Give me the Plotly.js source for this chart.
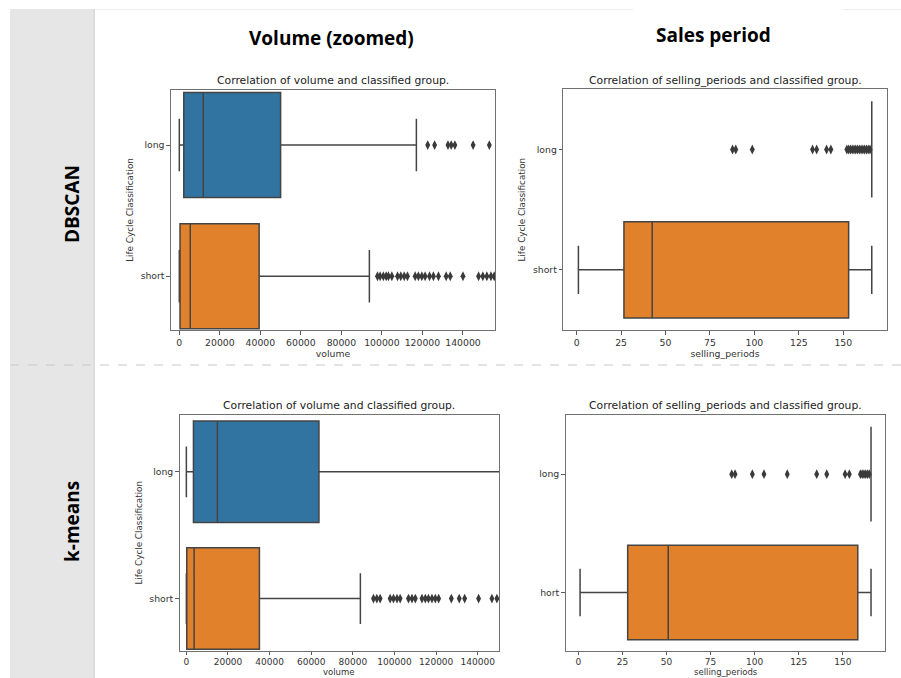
<!DOCTYPE html>
<html>
<head>
<meta charset="utf-8">
<script src="https://cdn.plot.ly/plotly-3.0.1.min.js"></script>
<style>
  html, body { margin: 0; padding: 0; background: #ffffff; }
  #chart { width: 901px; height: 678px; }
</style>
</head>
<body>
<div id="chart"></div>
<script>
// ---------------- DATA ----------------
const categories = ['long', 'short'];
const statOrder = ['lowerfence', 'q1', 'median', 'q3', 'upperfence'];

// DBSCAN – volume (zoomed)
const dbscanVolumeLong = [0, 2200, 11800, 50000, 117000];
const dbscanVolumeShort = [0, 350, 5400, 39400, 93800];
const dbscanVolumeLongOutliers = [122600, 126000, 132600, 134200, 136000, 145000, 153000];
const dbscanVolumeShortOutliers = [97800, 99100, 100700, 102100, 103200, 104900, 107700, 109300, 111000, 112600,
  116400, 118000, 119700, 121300, 123500, 125400, 127900, 131700, 133700, 140000,
  147700, 149800, 151800, 153800, 155400];

// DBSCAN – sales period
const dbscanSalesLong = [166, 166, 166, 166, 166];
const dbscanSalesShort = [1, 26.6, 42.5, 153, 166];
const dbscanSalesLongOutliers = [87.7, 89.5, 98.8, 132.7, 135, 140.6, 143, 152, 153, 154, 155, 156, 157, 158,
  159, 160, 161, 162, 163, 164, 165];

// k-means – volume (zoomed)
const kmeansVolumeLong = [0, 3400, 14900, 63700, 160000];
const kmeansVolumeShort = [0, 200, 3700, 35100, 83600];
const kmeansVolumeShortOutliers = [89900, 91500, 93100, 97900, 99500, 101200, 102700, 106700, 108400, 110000,
  113200, 114800, 116300, 118000, 119600, 121200, 127300, 131100, 133700, 140400, 146800, 149200];

// k-means – sales period
const kmeansSalesLong = [166, 166, 166, 166, 166];
const kmeansSalesShort = [1, 28, 51, 158.5, 166];
const kmeansSalesLongOutliers = [87, 88.9, 98.7, 105.3, 118.5, 135.2, 140.9, 151.3, 153.7, 160, 161, 162, 163, 164, 165];

const volumeTicks = [0, 20000, 40000, 60000, 80000, 100000, 120000, 140000];
const salesTicks = [0, 25, 50, 75, 100, 125, 150];

const subplotTitles = ['Correlation of volume and classified group.',
  'Correlation of selling_periods and classified group.'];
const xTitles = ['volume', 'selling_periods'];
const yTitle = 'Life Cycle Classification';
const columnTitles = ['Volume (zoomed)', 'Sales period'];
const rowTitles = ['DBSCAN', 'k-means'];

// ---------------- STYLE ----------------
const BLUE = '#3274a1';
const ORANGE = '#e1812c';
const LINE = '#444444';
const W = 901, H = 678;
const px = v => v / W;
const py = v => 1 - v / H;

function boxTrace(stats, cat, color, xa, ya) {
  const t = {
    type: 'box', orientation: 'h',
    y: [cat], xaxis: xa, yaxis: ya,
    fillcolor: color,
    line: { color: LINE, width: 1.5 },
    whiskerwidth: 0.5, width: 0.8,
    boxpoints: false, showlegend: false, hoverinfo: 'skip'
  };
  statOrder.forEach((k, i) => { t[k] = [stats[i]]; });
  return t;
}
function outlierTrace(vals, cat, xa, ya) {
  return {
    type: 'scatter', mode: 'markers',
    x: vals, y: vals.map(() => cat), xaxis: xa, yaxis: ya,
    marker: { symbol: 'diamond-tall', size: 7, color: '#3a3a3a', line: { width: 0 } },
    showlegend: false, hoverinfo: 'skip'
  };
}

const data = [
  boxTrace(dbscanVolumeLong, categories[0], BLUE, 'x', 'y'),
  boxTrace(dbscanVolumeShort, categories[1], ORANGE, 'x', 'y'),
  outlierTrace(dbscanVolumeLongOutliers, categories[0], 'x', 'y'),
  outlierTrace(dbscanVolumeShortOutliers, categories[1], 'x', 'y'),

  boxTrace(dbscanSalesLong, categories[0], BLUE, 'x2', 'y2'),
  boxTrace(dbscanSalesShort, categories[1], ORANGE, 'x2', 'y2'),
  outlierTrace(dbscanSalesLongOutliers, categories[0], 'x2', 'y2'),

  boxTrace(kmeansVolumeLong, categories[0], BLUE, 'x3', 'y3'),
  boxTrace(kmeansVolumeShort, categories[1], ORANGE, 'x3', 'y3'),
  outlierTrace(kmeansVolumeShortOutliers, categories[1], 'x3', 'y3'),

  boxTrace(kmeansSalesLong, categories[0], BLUE, 'x4', 'y4'),
  boxTrace(kmeansSalesShort, categories[1], ORANGE, 'x4', 'y4'),
  outlierTrace(kmeansSalesLongOutliers, categories[0], 'x4', 'y4')
];

const tickFont = { family: 'DejaVu Sans', size: 9.3, color: '#333333' };
const bottomTickFont = { family: 'DejaVu Sans', size: 9, color: '#333333' };
const yTitleFont = { family: 'DejaVu Sans', size: 8.8, color: '#333333' };
const bottomTitleFont = { family: 'DejaVu Sans', size: 8.5, color: '#333333' };
function xAxis(domain, range, ticks, title, anchor, ticklen, font) {
  return {
    domain: domain, range: range, anchor: anchor,
    tickmode: 'array', tickvals: ticks, ticktext: ticks.map(String),
    ticks: 'outside', ticklen: ticklen, tickwidth: 0.8, tickcolor: '#333333',
    showgrid: false, zeroline: false,
    showline: true, mirror: true, linecolor: '#707070', linewidth: 1.1,
    tickfont: font,
    title: { text: title, font: tickFont, standoff: 1 }
  };
}
function yAxis(domain, range, title, anchor) {
  return {
    domain: domain, range: range, anchor: anchor,
    type: 'category', categoryorder: 'array', categoryarray: categories,
    ticks: 'outside', ticklen: 3.5, tickwidth: 0.8, tickcolor: '#333333',
    showgrid: false, zeroline: false,
    showline: true, mirror: true, linecolor: '#707070', linewidth: 1.1,
    tickfont: tickFont,
    title: { text: title, font: yTitleFont, standoff: 5 }
  };
}

const d1x = [px(171), px(495)], d1y = [py(330), py(90)];
const d2x = [px(563.3), px(886.7)], d2y = [py(330), py(89.3)];
const d3x = [px(179.7), px(499)], d3y = [py(650.5), py(415)];
const d4x = [px(565.7), px(885.3)], d4y = [py(650.5), py(415)];

const annFont = { family: 'DejaVu Sans', size: 10.8, color: '#222222' };
const headFont = { family: 'Open Sans', size: 19, color: '#000000', weight: 700 };

const layout = {
  width: W, height: H,
  margin: { l: 0, r: 0, t: 0, b: 0 },
  paper_bgcolor: '#ffffff', plot_bgcolor: '#ffffff',
  showlegend: false,
  xaxis: xAxis(d1x, [-4100, 155800], volumeTicks, xTitles[0], 'y', 3.5, tickFont),
  yaxis: yAxis(d1y, [1.41, -0.42], yTitle, 'x'),
  xaxis2: xAxis(d2x, [-7.5, 174.4], salesTicks, xTitles[1], 'y2', 3.5, tickFont),
  yaxis2: yAxis(d2y, [1.5, -0.5], yTitle, 'x2'),
  xaxis3: xAxis(d3x, [-3200, 150200], volumeTicks, '', 'y3', 3, bottomTickFont),
  yaxis3: yAxis(d3y, [1.41, -0.448], yTitle, 'x3'),
  xaxis4: xAxis(d4x, [-7.15, 174.1], salesTicks, '', 'y4', 3, bottomTickFont),
  yaxis4: yAxis(d4y, [1.49, -0.5], '', 'x4'),
  shapes: [
    { type: 'rect', xref: 'paper', yref: 'paper', x0: px(10), x1: px(93), y0: 0, y1: py(9),
      fillcolor: '#e6e6e6', line: { width: 0 }, layer: 'below' },
    { type: 'line', xref: 'paper', yref: 'paper', x0: px(94), x1: px(94), y0: 0, y1: py(9),
      line: { color: '#d2d2d2', width: 1.5 }, layer: 'below' },
    { type: 'line', xref: 'paper', yref: 'paper', x0: px(95), x1: px(633), y0: py(9.5), y1: py(9.5),
      line: { color: '#eeeeee', width: 1 }, layer: 'below' },
    { type: 'line', xref: 'paper', yref: 'paper', x0: px(843), x1: 1, y0: py(9.5), y1: py(9.5),
      line: { color: '#eeeeee', width: 1 }, layer: 'below' },
    { type: 'line', xref: 'paper', yref: 'paper', x0: px(10), x1: 1, y0: py(365), y1: py(365),
      line: { color: '#c8c8c8', width: 1, dash: 'dash' }, layer: 'below' },
    { type: 'rect', xref: 'paper', yref: 'paper', x0: px(506), x1: px(540.5), y0: py(605), y1: py(585),
      fillcolor: '#ffffff', line: { width: 0 }, layer: 'above' }
  ],
  annotations: [
    { text: subplotTitles[0], xref: 'paper', yref: 'paper', x: (d1x[0] + d1x[1]) / 2, y: py(80),
      showarrow: false, font: annFont, xanchor: 'center', yanchor: 'middle' },
    { text: subplotTitles[1], xref: 'paper', yref: 'paper', x: (d2x[0] + d2x[1]) / 2, y: py(80),
      showarrow: false, font: annFont, xanchor: 'center', yanchor: 'middle' },
    { text: subplotTitles[0], xref: 'paper', yref: 'paper', x: (d3x[0] + d3x[1]) / 2, y: py(405),
      showarrow: false, font: annFont, xanchor: 'center', yanchor: 'middle' },
    { text: subplotTitles[1], xref: 'paper', yref: 'paper', x: (d4x[0] + d4x[1]) / 2, y: py(405),
      showarrow: false, font: annFont, xanchor: 'center', yanchor: 'middle' },
    { text: xTitles[0], xref: 'paper', yref: 'paper', x: (d3x[0] + d3x[1]) / 2, y: 0,
      showarrow: false, font: bottomTitleFont, xanchor: 'center', yanchor: 'bottom', borderpad: 0 },
    { text: xTitles[1], xref: 'paper', yref: 'paper', x: (d4x[0] + d4x[1]) / 2, y: 0,
      showarrow: false, font: bottomTitleFont, xanchor: 'center', yanchor: 'bottom', borderpad: 0 },
    { text: columnTitles[0], xref: 'paper', yref: 'paper', x: px(331), y: py(38),
      showarrow: false, font: headFont, xanchor: 'center', yanchor: 'middle' },
    { text: columnTitles[1], xref: 'paper', yref: 'paper', x: px(713), y: py(35),
      showarrow: false, font: headFont, xanchor: 'center', yanchor: 'middle' },
    { text: rowTitles[0], xref: 'paper', yref: 'paper', x: px(72), y: py(204), textangle: -90,
      showarrow: false, font: headFont, xanchor: 'center', yanchor: 'middle' },
    { text: rowTitles[1], xref: 'paper', yref: 'paper', x: px(72), y: py(522), textangle: -90,
      showarrow: false, font: headFont, xanchor: 'center', yanchor: 'middle' }
  ]
};

Plotly.newPlot('chart', data, layout, { staticPlot: true, displayModeBar: false });
</script>
</body>
</html>
